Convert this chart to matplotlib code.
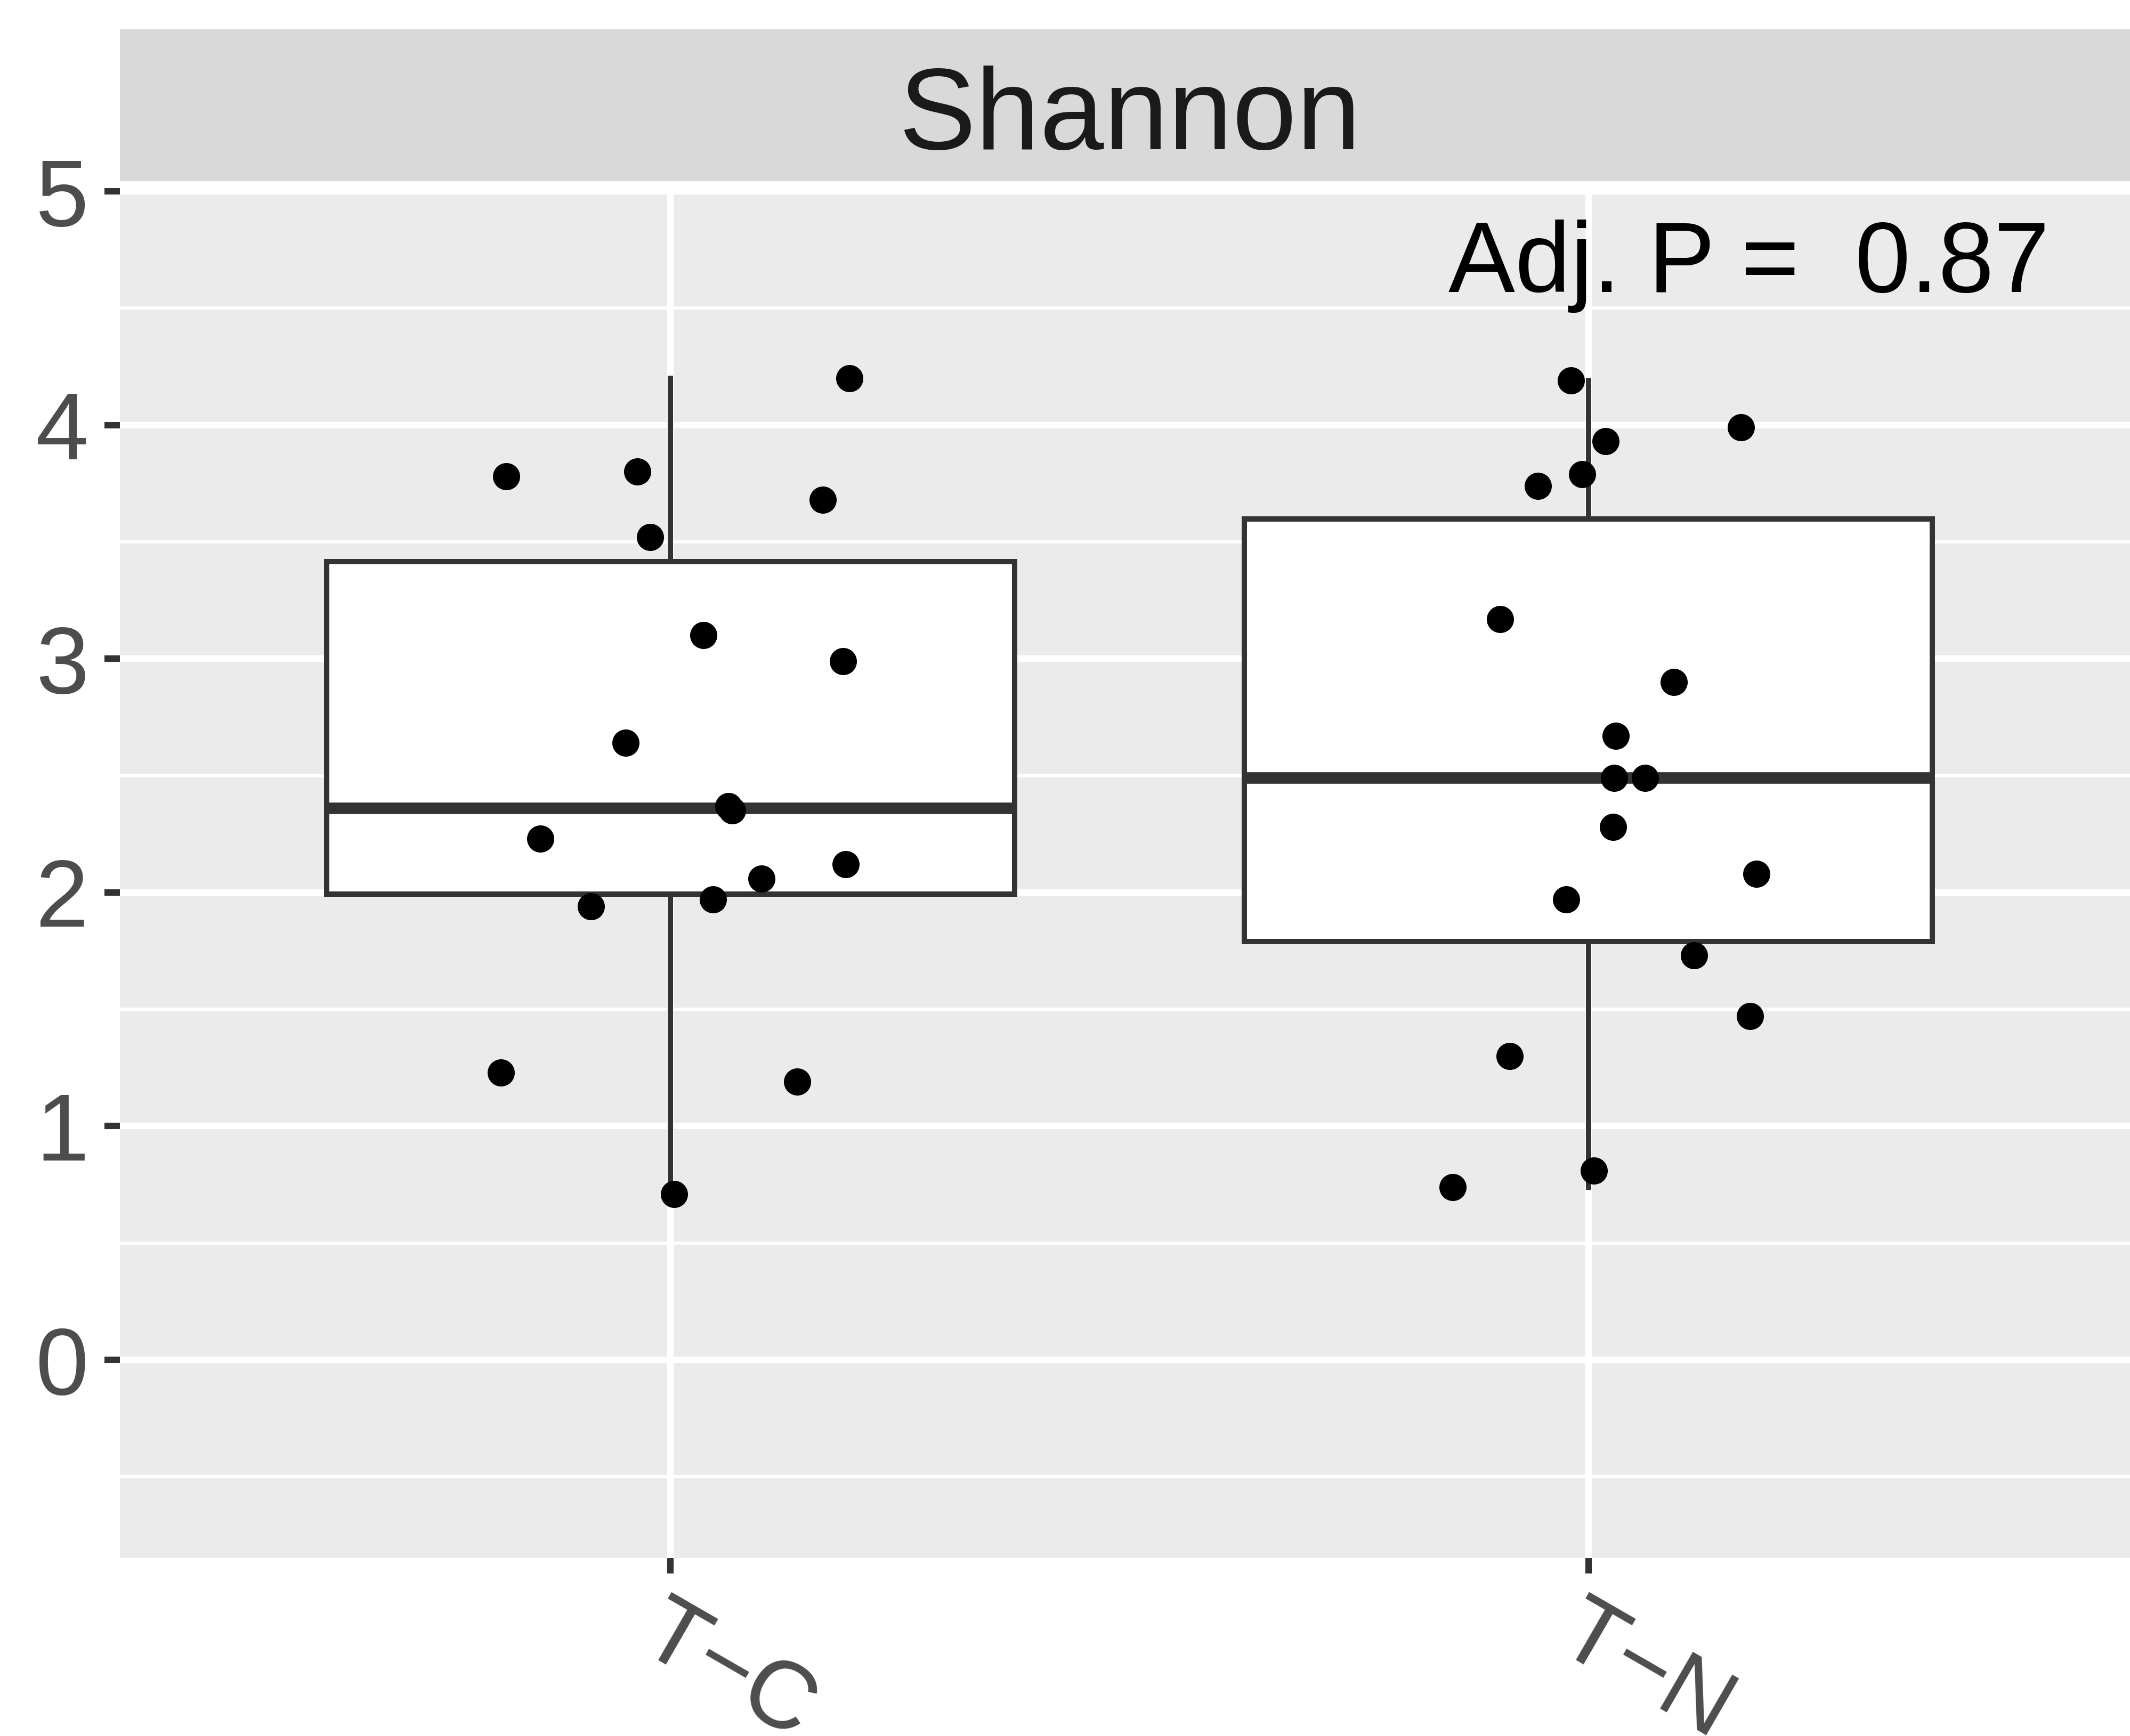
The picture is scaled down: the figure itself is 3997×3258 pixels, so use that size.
import matplotlib
matplotlib.use("Agg")
import matplotlib.pyplot as plt
import numpy as np

plt.rcParams['font.family'] = ['Liberation Sans', 'DejaVu Sans']

# data
groups = ["T\u2212C", "T\u2212N"]
tc_values = [3.78, 3.80, 3.52, 4.20, 3.68, 3.10, 2.99, 2.64, 2.23, 2.37, 2.35,
             2.12, 2.06, 1.94, 1.97, 1.23, 1.19, 0.71]
tc_jitter = [-0.179, -0.036, -0.022, 0.195, 0.166, 0.036, 0.188, -0.049, -0.142,
             0.063, 0.067, 0.191, 0.099, -0.087, 0.046, -0.185, 0.138, 0.004]
tn_values = [4.19, 3.93, 3.99, 3.74, 3.79, 3.17, 2.90, 2.67, 2.49, 2.49, 2.28,
             2.08, 1.97, 1.73, 1.47, 1.30, 0.81, 0.74]
tn_jitter = [-0.019, 0.019, 0.166, -0.055, -0.007, -0.096, 0.093, 0.030, 0.028,
             0.062, 0.027, 0.183, -0.024, 0.115, 0.176, -0.086, 0.006, -0.148]
facet_label = "Shannon"
p_label = "Adj. P =  0.87"
y_major = [0, 1, 2, 3, 4, 5]
y_minor = [-0.5, 0.5, 1.5, 2.5, 3.5, 4.5]

W, H = 3997, 3258
fig = plt.figure(figsize=(W / 300, H / 300), dpi=300)
fig.patch.set_facecolor("white")

left = 225 / W
width = (4014 - 225) / W
ax = fig.add_axes([left, (H - 2924) / H, width, (2924 - 353) / H])
strip = fig.add_axes([left, (H - 340) / H, width, (340 - 55) / H])

ax.set_facecolor("#EBEBEB")
for s in ax.spines.values():
    s.set_visible(False)

line_c = "#333333"
ax.boxplot([tc_values, tn_values], positions=[1, 2], widths=0.75,
           showcaps=False, showfliers=False, patch_artist=True, whis=1.5,
           boxprops=dict(facecolor="white", edgecolor=line_c, linewidth=2.4),
           whiskerprops=dict(color=line_c, linewidth=2.4),
           medianprops=dict(color=line_c, linewidth=5.2, solid_capstyle="butt"),
           zorder=2)

ax.scatter(1 + np.array(tc_jitter), tc_values, s=150, color="black",
           linewidths=0, zorder=3)
ax.scatter(2 + np.array(tn_jitter), tn_values, s=150, color="black",
           linewidths=0, zorder=3)

ax.set_xlim(0.4, 2.6)
ax.set_ylim(-0.848, 5.014)
ax.set_yticks(y_major)
ax.set_yticks(y_minor, minor=True)
ax.set_xticks([1, 2])
ax.set_xticklabels(groups)
ax.grid(which="major", axis="both", color="white", lw=2.9, zorder=0)
ax.grid(which="minor", axis="y", color="white", lw=1.45, zorder=0)
ax.set_axisbelow(True)

ax.tick_params(axis="both", which="major", length=7, width=2.9, color="#333333",
               labelcolor="#4D4D4D", labelsize=43, pad=7)
ax.tick_params(axis="y", which="minor", length=0)
for lab in ax.get_xticklabels():
    lab.set_rotation(-30)
    lab.set_ha("left")
    lab.set_va("top")
    lab.set_rotation_mode("anchor")

ax.text(2.175, 4.57, p_label, fontsize=45, color="black", ha="center", va="baseline")

strip.set_facecolor("#D9D9D9")
strip.set_xticks([])
strip.set_yticks([])
for s in strip.spines.values():
    s.set_visible(False)
strip.text(0.5, 0.21, facet_label, transform=strip.transAxes, fontsize=52,
           color="#1A1A1A", ha="center", va="baseline")

fig.savefig("out.png", dpi=300)
